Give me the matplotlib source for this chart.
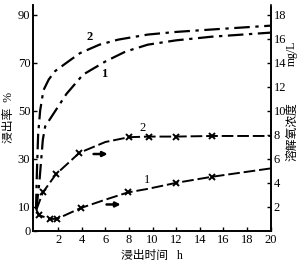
import matplotlib
matplotlib.use('Agg')
import matplotlib.pyplot as plt

plt.rcParams['font.family'] = ['Liberation Serif', 'Noto Sans CJK SC', 'DejaVu Sans']

# leaching rate, % (left axis)
leach_t2 = [0.12, 0.2, 0.3, 0.47, 0.75, 1.2, 1.74, 3.0, 3.86, 5.5, 7.1, 9.6, 12, 15, 20]
leach_v2 = [9, 25, 40, 50, 58.5, 63, 66.5, 71, 74, 77.5, 79.6, 81.7, 82.8, 83.8, 85.4]
leach_t1 = [0.15, 0.4, 0.7, 0.9, 1.9, 2.7, 4.1, 6, 7.7, 9.6, 12, 15, 20]
leach_v1 = [9, 20, 38, 43.5, 51, 57, 65, 70.5, 74.6, 77.5, 79.3, 80.8, 82.5]

# dissolved oxygen, mg/L (right axis)
do_t2 = [0.15, 0.7, 1.8, 3.8, 6, 8, 9.7, 12, 15, 20]
do_v2 = [1.75, 3.2, 4.7, 6.5, 7.4, 7.8, 7.85, 7.85, 7.9, 7.9]
do_mark2 = [1, 2, 3, 5, 6, 7, 8]
do_t1 = [0.15, 0.4, 1.3, 1.9, 3.9, 6, 7.9, 9.6, 12, 15, 20]
do_v1 = [1.75, 1.3, 1.0, 1.0, 1.9, 2.6, 3.2, 3.5, 4.0, 4.5, 5.2]
do_mark1 = [1, 2, 3, 4, 6, 8, 9]

x_ticks = [2, 4, 6, 8, 10, 12, 14, 16, 18, 20]
left_ticks = [0, 10, 30, 50, 70, 90]
right_ticks = [2, 4, 6, 8, 10, 12, 14, 16, 18]

fig = plt.figure(figsize=(3.06, 2.63), dpi=100)
ax = fig.add_axes([0.108, 0.122, 0.778, 0.859])
ax2 = ax.twinx()

dashdot = (0, (7, 2.5, 1.5, 2.5))
dashed = (0, (6, 2))

ax.plot(leach_t2, leach_v2, color='black', lw=1.6, linestyle=dashdot)
ax.plot(leach_t1, leach_v1, color='black', lw=1.6, linestyle=dashdot)
ax2.plot(do_t2, do_v2, color='black', lw=1.4, linestyle=dashed,
         marker='x', markevery=do_mark2, ms=4, mew=1.4)
ax2.plot(do_t1, do_v1, color='black', lw=1.4, linestyle=dashed,
         marker='x', markevery=do_mark1, ms=4, mew=1.4)

# curve numbers
ax.text(4.4, 79.5, '2', fontsize=9, fontweight='bold')
ax.text(5.6, 64, '1', fontsize=9, fontweight='bold')
ax2.text(8.9, 8.3, '2', fontsize=9)
ax2.text(9.3, 4.0, '1', fontsize=9)

# arrows pointing to the right axis
arrow = dict(arrowstyle='-|>', color='black', lw=1.8, mutation_scale=7,
             shrinkA=0, shrinkB=0)
ax2.annotate('', xy=(6.2, 6.4), xytext=(5.0, 6.4), arrowprops=arrow)
ax2.annotate('', xy=(7.3, 2.2), xytext=(6.1, 2.2), arrowprops=arrow)

ax.set_xlim(-0.13, 20.05)
ax.set_ylim(0, 94)
ax2.set_ylim(0, 94 / 5)

ax.set_xticks(x_ticks)
ax.set_yticks(left_ticks)
ax2.set_yticks(right_ticks)

for a in (ax, ax2):
    a.spines['top'].set_visible(False)
    a.tick_params(direction='in', length=3, width=1, labelsize=9)
for s in ('left', 'bottom', 'right'):
    ax.spines[s].set_linewidth(1.2)
    ax2.spines[s].set_linewidth(1.2)
ax2.spines['right'].set_bounds(0, 18.6)
ax.tick_params(axis='y', pad=2)
ax2.tick_params(axis='y', pad=2)
ax.tick_params(axis='x', pad=2)

ax.set_xlabel('浸出时间   h', fontsize=8.5)
ax.xaxis.set_label_coords(0.5, -0.085)
ax.set_ylabel('浸出率  %', fontsize=8.5)
ax.yaxis.set_label_coords(-0.075, 0.5)

ax2.text(1.088, 0.44, '溶解氧浓度', transform=ax.transAxes, rotation=90,
         ha='center', va='center', fontsize=8.5)
ax2.text(1.088, 0.785, 'mg/L', transform=ax.transAxes, rotation=90,
         ha='center', va='center', fontsize=8.5)

fig.savefig('out.png', dpi=100)
